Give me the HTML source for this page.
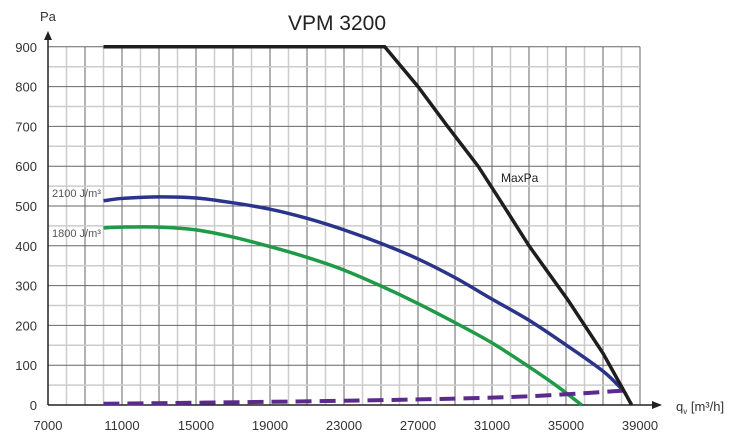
<!DOCTYPE html>
<html><head><meta charset="utf-8"><style>
html,body{margin:0;padding:0;background:#fff}
svg{display:block;font-family:"Liberation Sans","DejaVu Sans",sans-serif}
</style></head><body>
<svg id="chart" width="750" height="437" viewBox="0 0 750 437">
<g id="grid"></g>
<g id="axes"></g>
<g id="series"></g>
<text x="337" y="30" font-size="21" text-anchor="middle" fill="#222">VPM 3200</text>
<text x="40" y="21" font-size="13" fill="#333">Pa</text>
<text x="676" y="411" font-size="13" fill="#333">q<tspan font-size="8" dy="3">v</tspan><tspan dy="-3"> [m³/h]</tspan></text>
<text x="52" y="197" font-size="11" fill="#555">2100 J/m³</text>
<text x="52" y="237" font-size="11" fill="#555">1800 J/m³</text>
<text x="501" y="182" font-size="12" fill="#222">MaxPa</text>
</svg>
<script>
const xTicks=[7000,11000,15000,19000,23000,27000,31000,35000,39000];
const yTicks=[0,100,200,300,400,500,600,700,800,900];
const maxX=[10000,25200,27000,28600,30250,31500,33000,35100,37000,38100,38550];
const maxY=[900,900,800,700,600,510,400,264,130,38,0];
const blueX=[10000,11000,13000,15000,17000,19000,21000,23000,25000,27000,29000,31000,33000,35000,37000,38100];
const blueY=[513,519,523,520,508,492,469,440,406,367,320,266,213,151,85,36];
const greenX=[10000,11000,13000,15000,17000,19000,21000,23000,25000,27000,29000,31000,33000,34500,35850];
const greenY=[445,447,447,440,422,398,371,339,299,255,207,156,96,48,0];
const purpleX=[10000,19000,27000,33000,38400];
const purpleY=[3,8,14,22,37];
const NS='http://www.w3.org/2000/svg';
const sx=v=>48+(v-7000)*18.5/1000;
const sy=v=>405-v*0.398;
function mk(tag,attrs,parent){const e=document.createElementNS(NS,tag);for(const k in attrs)e.setAttribute(k,attrs[k]);parent.appendChild(e);return e;}
const grid=document.getElementById('grid'),axes=document.getElementById('axes'),series=document.getElementById('series');
for(let v=8000;v<=39000;v+=1000){
  const major=(v-7000)%2000===0;
  const l=mk('line',{x1:sx(v),x2:sx(v),y1:sy(900),y2:sy(0),stroke:major?'#666':'#ccc','stroke-width':major?1:1.5},grid);
  
  
}
for(let v=50;v<=900;v+=50){
  const major=v%100===0;
  const l=mk('line',{x1:sx(7000),x2:sx(39000),y1:sy(v),y2:sy(v),stroke:major?'#666':'#ccc','stroke-width':major?1:1.5},grid);
  
  
}
const xa=mk('line',{x1:48,x2:655,y1:405,y2:405,stroke:'#222','stroke-width':1.5},axes);


const xar=mk('polygon',{points:'662,405 652,401 652,409',fill:'#222'},axes);


const ya=mk('line',{x1:48,x2:48,y1:405,y2:38,stroke:'#222','stroke-width':1.5},axes);


const yar=mk('polygon',{points:'48,31 44,40 52,40',fill:'#222'},axes);


xTicks.forEach(v=>{const t=mk('text',{x:sx(v),y:430,'font-size':13,'text-anchor':'middle',fill:'#333'},axes);t.textContent=v;
  
  });
yTicks.forEach(v=>{const t=mk('text',{x:37,y:sy(v)+5,'font-size':13,'text-anchor':'end',fill:'#333'},axes);t.textContent=v;
  
  });
function curve(xs,ys){let d='';const p=xs.map((x,i)=>[sx(x),sy(ys[i])]);
  d='M'+p[0][0]+','+p[0][1];
  for(let i=0;i<p.length-1;i++){const p0=p[Math.max(0,i-1)],p1=p[i],p2=p[i+1],p3=p[Math.min(p.length-1,i+2)];
    d+=' C'+(p1[0]+(p2[0]-p0[0])/6)+','+(p1[1]+(p2[1]-p0[1])/6)+' '+(p2[0]-(p3[0]-p1[0])/6)+','+(p2[1]-(p3[1]-p1[1])/6)+' '+p2[0]+','+p2[1];}
  return d;}
function lin(xs,ys){return xs.map((x,i)=>(i?'L':'M')+sx(x)+','+sy(ys[i])).join(' ');}
const s1=mk('path',{d:curve(greenX,greenY),fill:'none',stroke:'#1f9a47','stroke-width':3.5},series);


const s2=mk('path',{d:curve(blueX,blueY),fill:'none',stroke:'#2a3589','stroke-width':3.5},series);


const s3=mk('path',{d:curve(purpleX,purpleY),fill:'none',stroke:'#5b2a8c','stroke-width':4,'stroke-dasharray':'16,8'},series);


const s4=mk('path',{d:lin(maxX,maxY),fill:'none',stroke:'#1e1e1e','stroke-width':3.5},series);


</script>
</body></html>
